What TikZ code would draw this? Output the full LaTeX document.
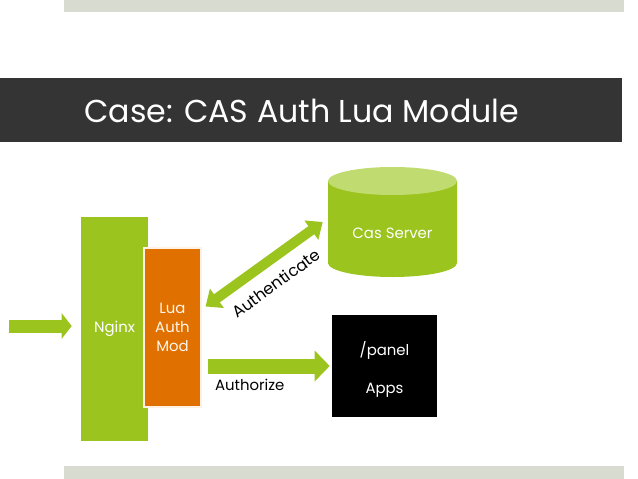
\documentclass[tikz,border=0pt]{standalone}
\usepackage{fontspec}
\setmainfont{Poppins}
\usepackage{xcolor}
\usepackage{tikz}
\usetikzlibrary{
  arrows.meta,
  positioning
}

\definecolor{appgreen}{RGB}{155,196,30}
\definecolor{toplight}{RGB}{192,220,112}
\definecolor{modorange}{RGB}{224,112,0}
\definecolor{titlegray}{RGB}{52,52,52}
\definecolor{bargray}{RGB}{216,219,208}
\newcommand{\pxu}{0.7113pt}

\begin{document}
\begin{tikzpicture}[
        x=0.025cm,y=-0.025cm,
        txt/.style={
            inner sep=0pt,
            font=\fontsize{10.6}{13.6}\selectfont
          },
        greenbox/.style={
            txt,
            fill=appgreen,
            text=white
          },
        modbox/.style={
            txt,
            fill=modorange,
            draw=white!90!orange,
            line width=0.8pt,
            text=white!92!orange,
            align=center
          },
        appbox/.style={
            txt,
            fill=black,
            text=white,
            align=center
          },
        fatarrow/.style n args={3}{
            draw=appgreen,
            line width=#1,
            -{Triangle[length=#2,width=#3]}
          },
        fatboth/.style n args={3}{
            draw=appgreen,
            line width=#1,
            {Triangle[length=#2,width=#3]}-{Triangle[length=#2,width=#3]}
          }
      ]
      \useasboundingbox (0,0) rectangle (638,479);

      % Leisten oben, unten und Titel
      \fill[bargray] (64,0) rectangle (624,12);
      \fill[bargray] (64,466) rectangle (624,479);
      \fill[titlegray] (0,78) rectangle (622,142);
      \node[anchor=west, inner sep=0pt, text=white,
        font=\fontsize{22.5}{27}\selectfont] (title) at (84,111)
        {Case: CAS Auth Lua Module};

      % Knoten
      \node[greenbox, minimum width=67*\pxu, minimum height=224*\pxu] (nginx)
        at (114.5,329) {Nginx};
      \node[modbox, minimum width=57*\pxu, minimum height=159*\pxu] (mod)
        at (172.5,327.5) {Lua\\Auth\\Mod};
      \node[appbox, minimum width=105*\pxu, minimum height=102*\pxu] (apps)
        at (384.5,366) {};
      \node[txt, text=white, align=center] (appslabel) at (384.5,369)
        {/panel\\[13.5pt]Apps};

      % Zylinder fuer den CAS-Server
      \node[inner sep=0pt, minimum width=129*\pxu, minimum height=110*\pxu] (cas)
        at (392.5,222) {};
      \fill[appgreen] (328,181) -- (328,263)
        arc[start angle=180, end angle=0, x radius=64.5, y radius=14]
        -- (457,181) -- cycle;
      \fill[toplight] (392.5,181) ellipse[x radius=64.5, y radius=14];
      \node[txt, text=white] (caslabel) at (392.5,233) {Cas Server};

      % Pfeile
      \coordinate (client) at (9,326);
      \draw[fatarrow={13*\pxu}{10*\pxu}{25*\pxu}]
        (client) -- ([xshift=-9*\pxu]client -| nginx.west);
      \draw[fatarrow={15*\pxu}{15*\pxu}{30*\pxu}]
        ([xshift=6*\pxu]mod.east |- apps.west) -- ([xshift=-2*\pxu]apps.west)
        node[txt, pos=0, anchor=north west, text=black, xshift=0*\pxu, yshift=-6*\pxu]
        {Authorize};
      \draw[fatboth={10*\pxu}{14*\pxu}{23*\pxu}]
        ([shift={(4*\pxu,21*\pxu)}]mod.east) -- ([xshift=-5*\pxu]cas.west)
        node[txt, font=\fontsize{11.5}{14}\selectfont, pos=0.49, sloped, below=11*\pxu,
          text=black] {Authenticate};

    \end{tikzpicture}
\end{document}
